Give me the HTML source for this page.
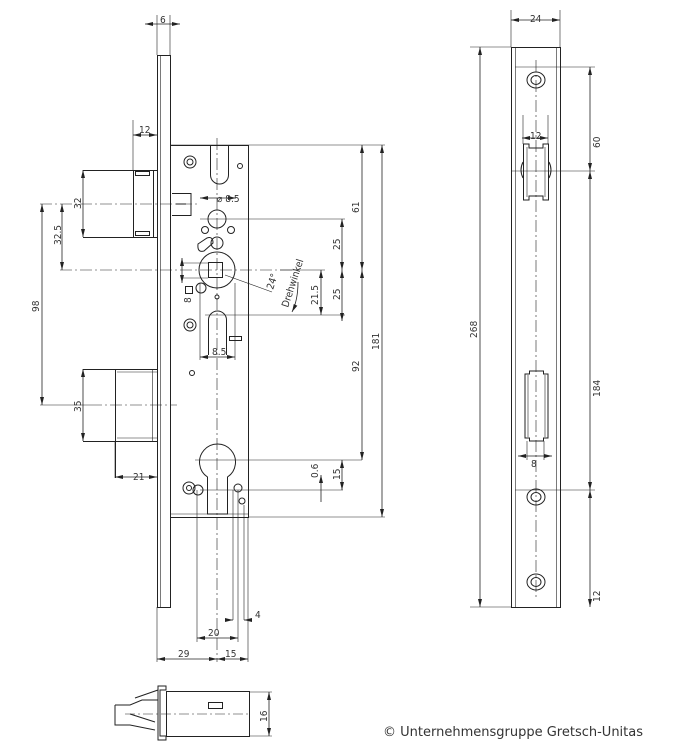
<!DOCTYPE html>
<html><head><meta charset="utf-8"><style>
html,body{margin:0;padding:0;background:#fff;}
svg{display:block}
text{font-family:"DejaVu Sans Condensed","Liberation Sans",sans-serif;font-size:10px;fill:#333}
</style></head><body>
<svg width="689" height="751" viewBox="0 0 689 751" xmlns="http://www.w3.org/2000/svg">
<defs>
<marker id="a" markerWidth="8" markerHeight="6" refX="8" refY="3" orient="auto-start-reverse" markerUnits="userSpaceOnUse"><path d="M0,1 L8,3 L0,5z" fill="#222"/></marker>
</defs>
<g fill="none" stroke="#222" stroke-width="1">
<rect x="157.5" y="55.5" width="13" height="552"/>
<line x1="160.5" y1="56" x2="160.5" y2="607" stroke-width="0.6"/>
<rect x="170.5" y="145.5" width="78" height="372"/>
<line x1="170" y1="514" x2="248" y2="514" stroke-width="0.6"/>
<path d="M83 170.5 H157 M83 237.5 H157"/>
<line x1="133.5" y1="170" x2="133.5" y2="237"/>
<line x1="153.5" y1="170" x2="153.5" y2="237"/>
<rect x="135.5" y="171.5" width="14" height="4"/>
<rect x="135.5" y="231.5" width="14" height="4"/>
<path d="M83 369.5 H157 M83 441.5 H157"/>
<line x1="115.5" y1="369" x2="115.5" y2="478"/>
<line x1="152.5" y1="370" x2="152.5" y2="441" stroke-width="0.6"/>
<line x1="117" y1="372" x2="157" y2="372" stroke-width="0.6"/>
<line x1="117" y1="438" x2="157" y2="438" stroke-width="0.6"/>
<path d="M210.5 146 V175 A9 9 0 0 0 228.5 175 V146"/>
<circle cx="190" cy="162" r="6"/><circle cx="190" cy="162" r="3"/>
<circle cx="240" cy="166" r="2.5"/>
<path d="M172 193.5 H191 V215.5 H172 M176 204 H186"/>
<circle cx="217" cy="219" r="9"/>
<circle cx="205" cy="230" r="3.5"/><circle cx="231" cy="230" r="3.5"/>
<path d="M198 244 L207 238 Q213 236 213 243 L204 251 Q197 253 198 244z"/>
<circle cx="217" cy="243" r="6"/>
<circle cx="217" cy="270" r="18"/>
<rect x="208.5" y="262.5" width="14" height="15"/>
<circle cx="201" cy="288" r="5"/>
<circle cx="217" cy="297" r="2"/>
<rect x="185.5" y="286.5" width="7" height="7"/>
<path d="M208.5 320 A9 9 0 0 1 226.5 320 V355 M208.5 320 V355"/>
<circle cx="190" cy="325" r="6"/><circle cx="190" cy="325" r="3"/>
<rect x="229.5" y="336.5" width="12" height="4"/>
<circle cx="192" cy="373" r="2.5"/>
<path d="M207.5 477 A18 18 0 1 1 227.5 477 V514 H207.5 Z"/>
<circle cx="189" cy="488" r="6"/><circle cx="189" cy="488" r="2.5"/>
<circle cx="198" cy="490" r="5"/>
<circle cx="238" cy="488" r="4"/>
<circle cx="242" cy="501" r="3"/>
<g stroke-width="0.6">
<line x1="197" y1="490" x2="197" y2="642"/>
<line x1="233" y1="490" x2="233" y2="620"/>
<line x1="238" y1="490" x2="238" y2="642"/>
<line x1="244" y1="505" x2="244" y2="620"/>
<line x1="248" y1="517" x2="248" y2="662"/>
<line x1="157" y1="607" x2="157" y2="662"/>
</g>
<g stroke-width="0.6" stroke-dasharray="12 3 2 3">
<line x1="217" y1="138" x2="217" y2="662"/>
<line x1="40" y1="204" x2="200" y2="204"/>
<line x1="60" y1="270" x2="300" y2="270"/>
<line x1="90" y1="405" x2="177" y2="405"/>
<line x1="536" y1="60" x2="536" y2="600"/>
</g>
<g stroke-width="0.6">
<line x1="171" y1="145" x2="385" y2="145"/>
<line x1="200" y1="219" x2="345" y2="219"/>
<line x1="205" y1="315" x2="345" y2="315"/>
<line x1="280" y1="270" x2="325" y2="270"/>
<line x1="195" y1="460" x2="362" y2="460"/>
<line x1="200" y1="490" x2="343" y2="490"/>
<line x1="248" y1="517" x2="385" y2="517"/>
<line x1="133" y1="120" x2="133" y2="170"/>
<line x1="157" y1="15" x2="157" y2="55"/>
<line x1="170" y1="15" x2="170" y2="55"/>
<line x1="182" y1="263" x2="208" y2="263"/><line x1="182" y1="278" x2="208" y2="278"/>
<line x1="115" y1="441" x2="115" y2="478"/>
<line x1="200" y1="283" x2="200" y2="360"/>
<line x1="235" y1="283" x2="235" y2="360"/>
<line x1="225" y1="275" x2="272" y2="292"/>
<line x1="40" y1="405" x2="90" y2="405"/>
</g>
<g stroke-width="0.8" marker-start="url(#a)" marker-end="url(#a)">
<line x1="145" y1="24" x2="180" y2="24"/>
<line x1="133" y1="135" x2="157" y2="135"/>
<line x1="83" y1="170" x2="83" y2="237"/>
<line x1="62" y1="204" x2="62" y2="270"/>
<line x1="42" y1="204" x2="42" y2="405"/>
<line x1="83" y1="369" x2="83" y2="441"/>
<line x1="115" y1="477" x2="157" y2="477"/>
<line x1="200" y1="198" x2="236" y2="198"/>
<line x1="200" y1="357" x2="235" y2="357"/>
<line x1="182" y1="258" x2="182" y2="283"/>
<line x1="342" y1="219" x2="342" y2="270"/>
<line x1="342" y1="270" x2="342" y2="321"/>
<line x1="321" y1="270" x2="321" y2="315"/>
<line x1="362" y1="145" x2="362" y2="270"/>
<line x1="362" y1="270" x2="362" y2="460"/>
<line x1="382" y1="145" x2="382" y2="517"/>
<line x1="342" y1="460" x2="342" y2="490"/>
<line x1="197" y1="638" x2="238" y2="638"/>
<line x1="157" y1="659" x2="217" y2="659"/>
<line x1="217" y1="659" x2="248" y2="659"/>
<line x1="511" y1="20" x2="560" y2="20"/>
<line x1="480" y1="47" x2="480" y2="607"/>
<line x1="590" y1="67" x2="590" y2="171"/>
<line x1="590" y1="171" x2="590" y2="490"/>
<line x1="590" y1="490" x2="590" y2="607"/>
<line x1="522" y1="138" x2="548" y2="138"/>
<line x1="518" y1="456" x2="552" y2="456"/>
</g>
<line x1="321" y1="490" x2="321" y2="475" stroke-width="0.8" marker-end="url(#a)"/>
<line x1="321" y1="490" x2="321" y2="502" stroke-width="0.8"/>
<line x1="225" y1="620" x2="233" y2="620" stroke-width="0.8" marker-end="url(#a)"/>
<line x1="252" y1="620" x2="244" y2="620" stroke-width="0.8" marker-end="url(#a)"/>
<path d="M298 282 Q298 300 292 312" stroke-width="0.8" marker-end="url(#a)"/>
<rect x="511.5" y="47.5" width="49" height="560"/>
<line x1="515.5" y1="48" x2="515.5" y2="607" stroke-width="0.6"/>
<line x1="556.5" y1="48" x2="556.5" y2="607" stroke-width="0.6"/>
<ellipse cx="536" cy="80" rx="9" ry="8"/><ellipse cx="536" cy="80" rx="5" ry="4.5"/>
<ellipse cx="536" cy="497" rx="9" ry="8"/><ellipse cx="536" cy="497" rx="5" ry="4.5"/>
<ellipse cx="536" cy="582" rx="9" ry="8"/><ellipse cx="536" cy="582" rx="5" ry="4.5"/>
<path d="M523.5 144 H529 V148 H543 V144 H548.5 V200 H543 V196 H529 V200 H523.5 Z"/>
<path d="M523 162 Q519 170 523 178 M549 162 Q553 170 549 178"/>
<line x1="527" y1="147" x2="527" y2="197" stroke-width="0.6"/>
<line x1="545" y1="147" x2="545" y2="197" stroke-width="0.6"/>
<path d="M529.5 371 V374 H525 V438 H529.5 V441 H543.5 V438 H548 V374 H543.5 V371 Z"/>
<line x1="528" y1="375" x2="528" y2="437" stroke-width="0.6"/>
<line x1="545" y1="375" x2="545" y2="437" stroke-width="0.6"/>
<g stroke-width="0.6">
<line x1="511" y1="10" x2="511" y2="47"/><line x1="560" y1="10" x2="560" y2="47"/>
<line x1="470" y1="47" x2="511" y2="47"/><line x1="470" y1="607" x2="511" y2="607"/>
<line x1="515" y1="67" x2="595" y2="67"/>
<line x1="512" y1="171" x2="595" y2="171"/>
<line x1="515" y1="490" x2="595" y2="490"/>
<line x1="523" y1="115" x2="523" y2="144"/><line x1="548" y1="115" x2="548" y2="144"/>
<line x1="527" y1="441" x2="527" y2="460"/><line x1="544" y1="441" x2="544" y2="460"/>
</g>
<path d="M158 686 H166 V690 H160 V736 H166 V740 H158 Z"/>
<rect x="166.5" y="691.5" width="83" height="45"/>
<path d="M115 705 H130 L142 700 H158 M115 705 V725 H130 L155 730 M130 714 L155 722 M135 698 L158 690"/>
<rect x="208.5" y="702.5" width="14" height="6"/>
<line x1="125" y1="714" x2="250" y2="714" stroke-width="0.6" stroke-dasharray="10 3 2 3"/>
<line x1="250" y1="692" x2="272" y2="692" stroke-width="0.6"/>
<line x1="250" y1="736" x2="272" y2="736" stroke-width="0.6"/>
<line x1="269" y1="692" x2="269" y2="736" stroke-width="0.8" marker-start="url(#a)" marker-end="url(#a)"/>
</g>
<text x="160" y="23">6</text>
<text x="139" y="133">12</text>
<text x="217" y="202">⌀ 8.5</text>
<text x="212" y="355">8.5</text>
<text x="133" y="480">21</text>
<text x="208" y="636">20</text>
<text x="255" y="618">4</text>
<text x="178" y="657">29</text>
<text x="225" y="657">15</text>
<text x="530" y="22">24</text>
<text x="530" y="139">12</text>
<text x="531" y="467">8</text>
<text transform="translate(81,209) rotate(-90)">32</text>
<text transform="translate(61,245) rotate(-90)">32.5</text>
<text transform="translate(39,312) rotate(-90)">98</text>
<text transform="translate(81,412) rotate(-90)">35</text>
<text transform="translate(191,303) rotate(-90)">8</text>
<text transform="translate(340,250) rotate(-90)">25</text>
<text transform="translate(340,300) rotate(-90)">25</text>
<text transform="translate(318,305) rotate(-90)">21.5</text>
<text transform="translate(359,213) rotate(-90)">61</text>
<text transform="translate(359,372) rotate(-90)">92</text>
<text transform="translate(379,350) rotate(-90)">181</text>
<text transform="translate(318,478) rotate(-90)">0.6</text>
<text transform="translate(340,480) rotate(-90)">15</text>
<text transform="translate(477,338) rotate(-90)">268</text>
<text transform="translate(600,148) rotate(-90)">60</text>
<text transform="translate(600,397) rotate(-90)">184</text>
<text transform="translate(600,602) rotate(-90)">12</text>
<text transform="translate(267,722) rotate(-90)">16</text>
<text transform="translate(273,290) rotate(-72)" font-size="9">24°</text>
<text transform="translate(288,308) rotate(-72)" font-size="9">Drehwinkel</text>
<text x="383" y="736" style="font-family:'DejaVu Sans',sans-serif;font-size:13px">© Unternehmensgruppe Gretsch-Unitas</text>
</svg>
</body></html>
